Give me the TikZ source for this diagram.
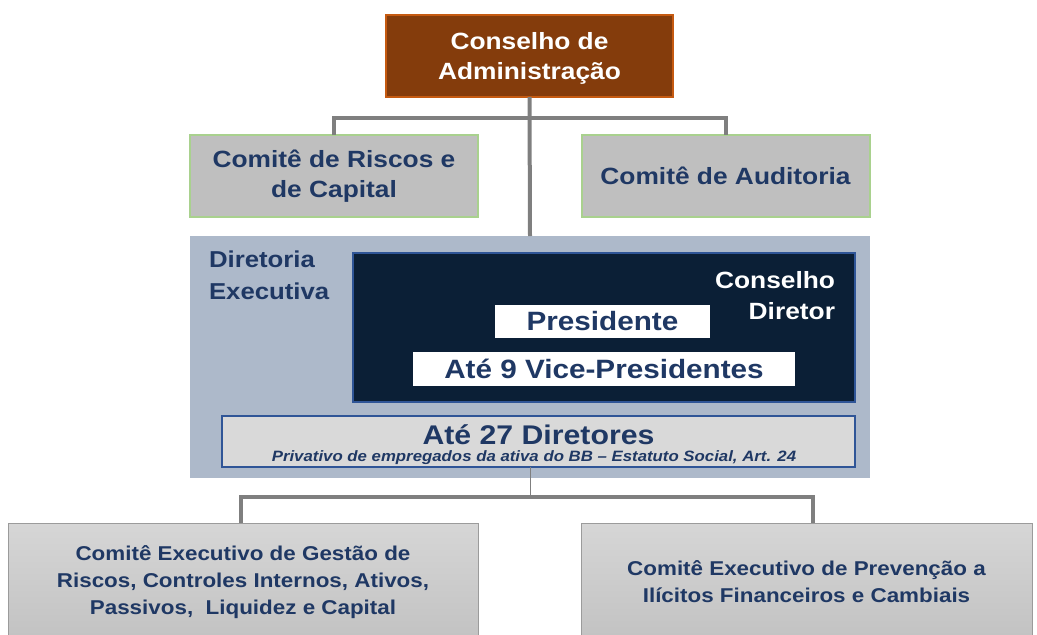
\documentclass[tikz,border=0pt]{standalone}
\usepackage{fontspec}
\setmainfont{Liberation Sans}[FakeStretch=1.12]
\usetikzlibrary{positioning}
\definecolor{cabrown}{HTML}{843C0C}
\definecolor{caborder}{HTML}{C55A11}
\definecolor{cgray}{HTML}{BFBFBF}
\definecolor{cgreen}{HTML}{A9D18E}
\definecolor{cnavy}{HTML}{1F3864}
\definecolor{couter}{HTML}{ADB9CA}
\definecolor{cdark}{HTML}{0B1F36}
\definecolor{cblue}{HTML}{2F5597}
\definecolor{clight}{HTML}{D9D9D9}
\definecolor{cline}{HTML}{7F7F7F}
\definecolor{cbtop}{HTML}{D6D6D6}
\definecolor{cbbot}{HTML}{C2C2C2}
\tikzset{
  every node/.style={inner sep=0pt, outer sep=0pt},
  boxtext/.style={font=\bfseries\fontsize{23.5}{30}\selectfont, align=center},
  comite/.style={boxtext, fill=cgray, draw=cgreen, line width=2pt, text=cnavy,
    minimum width=288, minimum height=82},
  whitebox/.style={fill=white, text=cnavy, font=\bfseries\fontsize{26.5}{30}\selectfont},
  bottombox/.style={top color=cbtop, bottom color=cbbot, draw=cbbot!80!black, line width=0.6pt,
    text=cnavy, font=\bfseries\fontsize{20}{27}\selectfont, align=center, minimum height=118},
  conn/.style={draw=cline, line width=4pt},
  thinconn/.style={draw=cline, line width=1pt},
}
\begin{document}
\begin{tikzpicture}[x=1pt, y=-1pt]
\useasboundingbox (0,0) rectangle (1037,635);
% top
\node[fill=cabrown, draw=caborder, line width=2pt,
  minimum width=287, minimum height=82] (cda) at (529.5,56) {};
\node[boxtext, text=white] (cdat) at (529.5,58) {Conselho de\\Administração};
\node[comite] (crc) at (334,176) {Comitê de Riscos e\\de Capital};
\node[comite] (cau) at (725.5,176) {Comitê de Auditoria};
% diretoria executiva
\node[fill=couter, minimum width=680, minimum height=242] (dex) at (530,357) {};
\node[anchor=north west, align=left, text=cnavy, font=\bfseries\fontsize{23}{32}\selectfont]
  (dextxt) at (209,251) {Diretoria\\Executiva};
\node[fill=cdark, draw=cblue, line width=1.2pt, minimum width=502, minimum height=149]
  (cdir) at (604,327.5) {};
\node[anchor=north east, align=right, text=white, font=\bfseries\fontsize{23.5}{31}\selectfont]
  (cdirtxt) at (835,271) {Conselho\\Diretor};
\node[whitebox, minimum width=215, minimum height=33] (pres) at (602.5,321.5) {Presidente};
\node[whitebox, minimum width=382, minimum height=34] (vp) at (604,369) {Até 9 Vice-Presidentes};
\node[fill=clight, draw=cblue, line width=1.2pt, minimum width=633, minimum height=51]
  (d27) at (538.5,441.5) {};
\node[text=cnavy, font=\bfseries\fontsize{27}{27}\selectfont] (d27t) at (538.5,435) {Até 27 Diretores};
\node[text=cnavy, font=\bfseries\itshape\fontsize{15}{17}\selectfont] (d27s) at (534,458)
  {Privativo de empregados da ativa do BB -- Estatuto Social, Art. 24};
% bottom
\node[bottombox, minimum width=470] (cel) at (243,582)
  {Comitê Executivo de Gestão de\\Riscos, Controles Internos, Ativos,\\Passivos,\ \ Liquidez e Capital};
\node[bottombox, minimum width=451] (cer) at (806.5,582)
  {Comitê Executivo de Prevenção a\\Ilícitos Financeiros e Cambiais};
% connectors
\coordinate (jt) at (530,118);
\coordinate (jb) at (530,497);
\draw[conn] (cda.south) -- (dex.north);
\draw[conn] (crc.north) |- (jt) -| (cau.north);
\draw[thinconn] (jb) -- (jb |- d27.south);
\draw[conn] ([xshift=-2pt]cel.north) |- (jb) -| ([xshift=6.5pt]cer.north);
\end{tikzpicture}
\end{document}
